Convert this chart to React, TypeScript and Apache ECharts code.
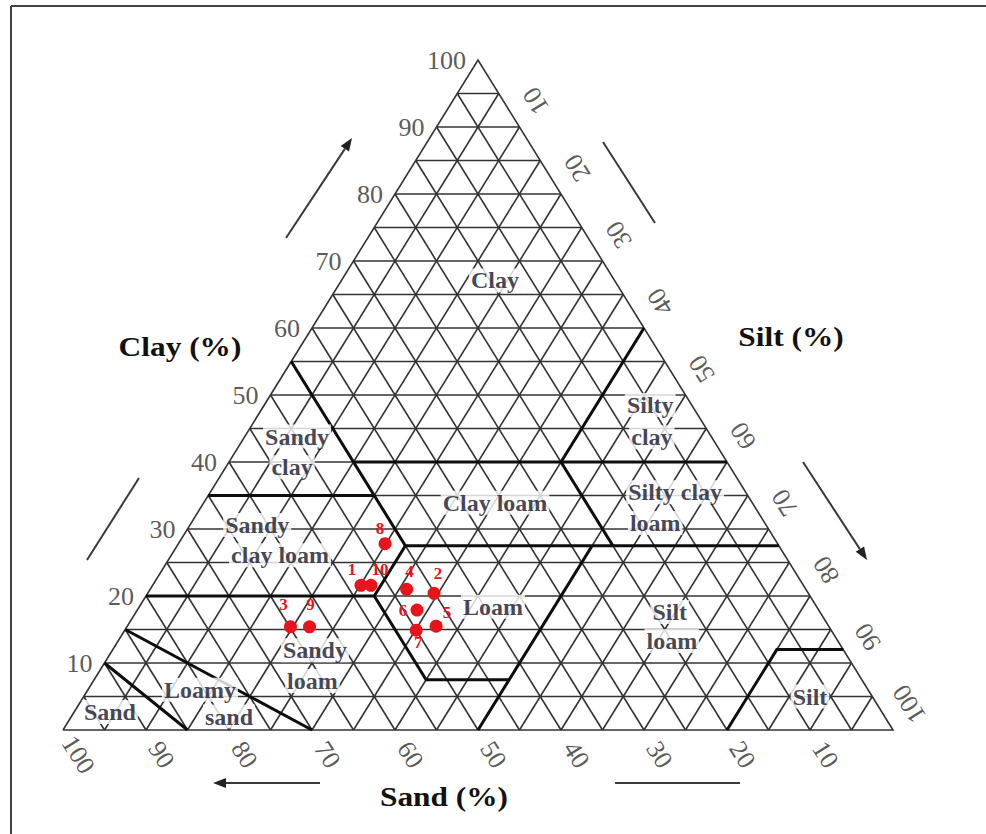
import React, { useEffect, useRef } from "react";
import * as echarts from "echarts";

// ---------- DATA ----------
const GRID_STEP = 5;
const clayTicks = [10, 20, 30, 40, 50, 60, 70, 80, 90, 100];
const siltTicks = [10, 20, 30, 40, 50, 60, 70, 80, 90, 100];
const sandTicks = [10, 20, 30, 40, 50, 60, 70, 80, 90, 100];

// texture class boundaries, polylines of [sand, silt, clay]
const boundaryLines: number[][][] = [
  [[45, 0, 55], [45, 27.5, 27.5]],
  [[45, 15, 40], [0, 60, 40]],
  [[0, 40, 60], [20, 40, 40]],
  [[20, 40, 40], [20, 52.5, 27.5]],
  [[65, 0, 35], [45, 20, 35]],
  [[45, 27.5, 27.5], [0, 72.5, 27.5]],
  [[45, 27.5, 27.5], [52.5, 27.5, 20]],
  [[80, 0, 20], [52.5, 27.5, 20], [52.5, 40, 7.5], [42.5, 50, 7.5]],
  [[50, 50, 0], [22.5, 50, 27.5]],
  [[20, 80, 0], [8, 80, 12], [0, 88, 12]],
  [[70, 30, 0], [85, 0, 15]],
  [[85, 15, 0], [90, 0, 10]],
];

const regionNames = ["Clay", "Sandy", "clay", "Sandy", "clay loam", "Clay loam", "Silty", "clay", "Silty clay", "loam", "Loam", "Silt", "loam", "Sandy", "loam", "Loamy", "sand", "Sand", "Silt"];
const regionSand = [14.4, 49.9, 52.8, 61.3, 60.8, 31.0, 5.0, 7.2, 8.5, 13.2, 39.0, 18.1, 20.0, 63.7, 66.3, 80.5, 79.0, 93.0, 7.5];
const regionSilt = [18.5, 6.3, 8.0, 8.1, 13.1, 35.1, 46.5, 49.1, 56.0, 55.9, 42.6, 64.3, 66.7, 24.4, 26.4, 13.5, 19.0, 4.3, 87.5];
const regionClay = [67.1, 43.8, 39.2, 30.6, 26.1, 33.9, 48.5, 43.7, 35.5, 30.9, 18.4, 17.6, 13.3, 11.9, 7.3, 6.0, 2.0, 2.7, 5.0];

const sampleIds = ["1", "2", "3", "4", "5", "6", "7", "8", "9", "10"];
const sampleSand = [53.3, 45.1, 64.9, 48.1, 47.3, 48.4, 50.0, 47.3, 62.6, 52.1];
const sampleSilt = [25.1, 34.5, 19.7, 30.9, 37.2, 33.7, 35.1, 24.9, 22.0, 26.3];
const sampleClay = [21.6, 20.4, 15.4, 21.0, 15.5, 17.9, 14.9, 27.8, 15.4, 21.6];

// ---------- STYLE ----------
const sampleLabelOffsets: number[][] = [
  [-9, -16], [4, -20], [-7, -22], [3, -18], [11, -14], [-14, 0], [2, 12], [-5, -15], [1, -22], [9, -16],
];
const FONT = "'Liberation Serif', 'Times New Roman', serif";
const RED = "#e8141c";

function tern(sand: number, silt: number, clay: number): [number, number] {
  return [silt + clay / 2, clay];
}

function arrow(x1: number, y1: number, x2: number, y2: number, head: boolean) {
  const els: any[] = [];
  const dx = x2 - x1, dy = y2 - y1;
  const L = Math.hypot(dx, dy);
  const ux = dx / L, uy = dy / L;
  const len = 13, hw = 5;
  const bx = x2 - ux * len, by = y2 - uy * len;
  els.push({
    type: "line",
    shape: { x1, y1, x2: head ? bx : x2, y2: head ? by : y2 },
    style: { stroke: "#3a3a3a", lineWidth: 2 },
  });
  if (head) {
    els.push({
      type: "polygon",
      shape: { points: [[x2, y2], [bx - uy * hw, by + ux * hw], [bx + uy * hw, by - ux * hw]] },
      style: { fill: "#222" },
    });
  }
  return els;
}

function title(text: string, x: number, y: number) {
  return {
    type: "text",
    x,
    y,
    scaleX: 1.12,
    style: {
      text,
      x: 0,
      y: 0,
      font: `bold 28px ${FONT}`,
      fill: "#111",
      align: "center",
      verticalAlign: "middle",
      textAlign: "center",
      textVerticalAlign: "middle",
    },
  };
}

export default function App() {
  const ref = useRef<HTMLDivElement>(null);
  useEffect(() => {
    if (!ref.current) return;
    const chart = echarts.init(ref.current, undefined, { renderer: "svg" });

    const gridSegs: any[] = [];
    for (let v = GRID_STEP; v < 100; v += GRID_STEP) {
      gridSegs.push({ coords: [tern(100 - v, 0, v), tern(0, 100 - v, v)] });
      gridSegs.push({ coords: [tern(100 - v, v, 0), tern(0, v, 100 - v)] });
      gridSegs.push({ coords: [tern(v, 100 - v, 0), tern(v, 0, 100 - v)] });
    }
    gridSegs.push({ coords: [tern(100, 0, 0), tern(0, 100, 0), tern(0, 0, 100), tern(100, 0, 0)] });

    const boundaryData = boundaryLines.map((pl) => ({ coords: pl.map((p) => tern(p[0], p[1], p[2])) }));

    const tickLabelStyle = { fontFamily: FONT, fontSize: 26, color: "#2e2e2e" };
    const clayTickData = clayTicks.map((c) => ({ value: tern(100 - c, 0, c), name: String(c) }));
    const siltTickData = siltTicks.map((s) => ({ value: tern(-3.9, s, 103.9 - s), name: String(s) }));
    const sandTickData = sandTicks.map((s) => ({ value: tern(s, 100 - s + 3.7, -3.7), name: String(s) }));

    const regionData = regionNames.map((n, i) => ({ value: tern(regionSand[i], regionSilt[i], regionClay[i]), name: n }));
    const sampleData = sampleIds.map((id, i) => ({
      value: tern(sampleSand[i], sampleSilt[i], sampleClay[i]),
      name: id,
      label: { offset: sampleLabelOffsets[i] },
    }));

    const option: any = {
      animation: false,
      backgroundColor: "#fff",
      grid: { left: 63, right: 93, top: 60, bottom: 104 },
      xAxis: { type: "value", min: 0, max: 100, show: false },
      yAxis: { type: "value", min: 0, max: 100, show: false },
      series: [
        {
          type: "lines",
          coordinateSystem: "cartesian2d",
          polyline: true,
          silent: true,
          clip: false,
          z: 1,
          lineStyle: { color: "#333", width: 1.6, opacity: 1 },
          data: gridSegs,
        },
        {
          type: "lines",
          coordinateSystem: "cartesian2d",
          polyline: true,
          silent: true,
          clip: false,
          z: 2,
          lineStyle: { color: "#0d0d0d", width: 3, opacity: 1 },
          data: boundaryData,
        },
        {
          type: "scatter",
          symbolSize: 0,
          clip: false,
          silent: true,
          z: 3,
          data: clayTickData,
          label: { show: true, position: "left", distance: 12, formatter: "{b}", ...tickLabelStyle },
        },
        {
          type: "scatter",
          symbolSize: 0,
          clip: false,
          silent: true,
          z: 3,
          data: siltTickData,
          label: { show: true, position: "inside", rotate: 122, formatter: "{b}", ...tickLabelStyle },
        },
        {
          type: "scatter",
          symbolSize: 0,
          clip: false,
          silent: true,
          z: 3,
          data: sandTickData,
          label: { show: true, position: "inside", rotate: -58, formatter: "{b}", ...tickLabelStyle },
        },
        {
          type: "scatter",
          symbolSize: 0,
          clip: false,
          silent: true,
          z: 4,
          data: regionData,
          label: {
            show: true,
            position: "inside",
            formatter: "{b}",
            fontFamily: FONT,
            fontSize: 24,
            fontWeight: "bold",
            color: "#15152a",
            backgroundColor: "#fff",
            padding: [0, 2],
          },
        },
        {
          type: "scatter",
          symbolSize: 13,
          clip: false,
          silent: true,
          z: 5,
          itemStyle: { color: RED, opacity: 1 },
          data: sampleData,
          label: {
            show: true,
            position: "inside",
            formatter: "{b}",
            fontFamily: FONT,
            fontSize: 17,
            fontWeight: "bold",
            color: RED,
          },
        },
      ],
      graphic: [
        { type: "line", shape: { x1: 11, y1: 6, x2: 986, y2: 6 }, style: { stroke: "#444", lineWidth: 2 } },
        { type: "line", shape: { x1: 11, y1: 6, x2: 11, y2: 834 }, style: { stroke: "#444", lineWidth: 2 } },
        title("Clay (%)", 180, 347),
        title("Silt (%)", 791, 337),
        title("Sand (%)", 444, 797),
        ...arrow(286, 238, 352, 138, true),
        ...arrow(87, 560, 139, 478, false),
        ...arrow(603, 142, 655, 223, false),
        ...arrow(803, 462, 867, 560, true),
        ...arrow(320, 783, 213, 783, true),
        ...arrow(615, 783, 740, 783, false),
      ],
    };
    chart.setOption(option);
    return () => chart.dispose();
  }, []);
  return (
    <div
      ref={ref}
      style={{ position: "absolute", left: 0, top: 0, width: 986, height: 834, background: "#fff" }}
    />
  );
}
